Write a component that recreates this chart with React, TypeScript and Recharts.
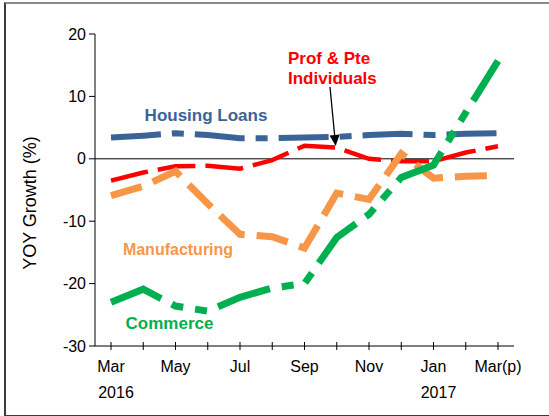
import React from 'react';
import { LineChart, Line, XAxis, YAxis, ReferenceLine } from 'recharts';

const MONTHS = [
  'Mar 2016', 'Apr 2016', 'May 2016', 'Jun 2016', 'Jul 2016', 'Aug 2016', 'Sep 2016',
  'Oct 2016', 'Nov 2016', 'Dec 2016', 'Jan 2017', 'Feb 2017', 'Mar 2017',
];
const TICK_LABELS = ['Mar', '', 'May', '', 'Jul', '', 'Sep', '', 'Nov', '', 'Jan', '', 'Mar(p)'];
const YEAR_LABELS = ['2016', '', '', '', '', '', '', '', '', '', '2017', '', ''];
const Y_TICKS = [-30, -20, -10, 0, 10, 20];

const HOUSING_LOANS = [3.4, 3.7, 4.1, 3.8, 3.3, 3.3, 3.4, 3.5, 3.8, 4.0, 3.8, 4.0, 4.1];
const PROF_PTE = [-3.5, -2.2, -1.2, -1.1, -1.6, -0.2, 2.1, 1.8, 0.0, -0.4, -0.4, 1.0, 2.0];
const MANUFACTURING = [-5.9, -4.4, -2.0, -7.2, -12.1, -12.5, -14.3, -5.5, -6.5, 0.8, -3.1, -2.8, -2.7];
const COMMERCE = [-23.0, -20.9, -23.6, -24.4, -22.2, -20.7, -20.0, -12.6, -8.9, -3.0, -1.0, 7.4, 15.7];

const FONT = '"Liberation Sans", Arial, sans-serif';

const data = MONTHS.map((month, i) => ({
  month,
  housing: HOUSING_LOANS[i],
  prof: PROF_PTE[i],
  manu: MANUFACTURING[i],
  commerce: COMMERCE[i],
}));

const MonthTick = (props: any) => {
  const { x, y, index } = props;
  return (
    <g>
      <line x1={x} x2={x} y1={y - 4} y2={y + 4} stroke="#000" strokeWidth={1} />
      <text x={x} y={y + 26} textAnchor="middle" fontSize={16} fill="#000" fontFamily={FONT}>
        {TICK_LABELS[index]}
      </text>
      {YEAR_LABELS[index] && (
        <text x={x + 5} y={y + 52} textAnchor="middle" fontSize={16} fill="#000" fontFamily={FONT}>
          {YEAR_LABELS[index]}
        </text>
      )}
    </g>
  );
};

export default function App() {
  return (
    <div style={{ position: 'absolute', left: 0, top: 0, width: 549, height: 416, background: '#fff', fontFamily: FONT }}>
      <div
        style={{
          position: 'absolute', left: 4, top: 2, width: 600, height: 411,
          borderLeft: '2px solid #3a3a3a', borderBottom: '2px solid #3a3a3a', borderTop: '2px solid #8a8a8a',
        }}
      />
      <LineChart
        width={549}
        height={416}
        data={data}
        margin={{ top: 34, right: 35, left: 35, bottom: 30 }}
        style={{ position: 'absolute', left: 0, top: 0, fontFamily: FONT }}
      >
        <XAxis
          dataKey="month"
          interval={0}
          height={40}
          padding={{ left: 16, right: 16 }}
          tickSize={0}
          tickMargin={0}
          tickLine={false}
          axisLine={{ stroke: '#000' }}
          tick={(p: any) => <MonthTick {...p} />}
        />
        <XAxis xAxisId="top" dataKey="month" orientation="top" height={0} tick={false} tickLine={false} axisLine={{ stroke: '#000' }} />
        <YAxis
          domain={[-30, 20]}
          ticks={Y_TICKS}
          interval={0}
          width={60}
          tickSize={6}
          tickMargin={3}
          tick={{ fontSize: 16, fill: '#000', fontFamily: FONT }}
          axisLine={{ stroke: '#000' }}
          tickLine={{ stroke: '#000' }}
        />
        <YAxis yAxisId="right" orientation="right" width={0} domain={[-30, 20]} tick={false} tickLine={false} axisLine={{ stroke: '#000' }} />
        <ReferenceLine y={0} stroke="#000" strokeWidth={1} />
        <Line dataKey="prof" stroke="#ff0000" strokeWidth={4.5} strokeDasharray="38 10" dot={false} isAnimationActive={false} />
        <Line dataKey="manu" stroke="#f79646" strokeWidth={7} strokeDasharray="32 12" dot={false} isAnimationActive={false} />
        <Line dataKey="housing" stroke="#3a6496" strokeWidth={6} strokeDasharray="50 11 12 11" dot={false} isAnimationActive={false} />
        <Line dataKey="commerce" stroke="#00b050" strokeWidth={7} strokeDasharray="55 12 12 12 12 12" dot={false} isAnimationActive={false} />
      </LineChart>
      <svg width={549} height={416} style={{ position: 'absolute', left: 0, top: 0, pointerEvents: 'none' }}>
        <text x={30} y={203} transform="rotate(-90 30 203)" textAnchor="middle" dominantBaseline="central" fontSize={18} fill="#000" fontFamily={FONT}>
          YOY Growth (%)
        </text>
        <text x={206} y={121} textAnchor="middle" fontSize={17} fontWeight="bold" fill="#3a6496" fontFamily={FONT}>
          Housing Loans
        </text>
        <text x={288} y={63.5} fontSize={17} fontWeight="bold" fill="#ff0000" fontFamily={FONT}>Prof &amp; Pte</text>
        <text x={288} y={83.5} fontSize={17} fontWeight="bold" fill="#ff0000" fontFamily={FONT}>Individuals</text>
        <text x={178} y={255} textAnchor="middle" fontSize={16} fontWeight="bold" fill="#f79646" fontFamily={FONT}>
          Manufacturing
        </text>
        <text x={169.5} y={328.5} textAnchor="middle" fontSize={17} fontWeight="bold" fill="#00b050" fontFamily={FONT}>
          Commerce
        </text>
        <line x1={330} y1={87} x2={334.6} y2={135} stroke="#000" strokeWidth={1.3} />
        <polygon points="335.7,146 339.6,134.5 329.6,135.5" fill="#000" />
      </svg>
    </div>
  );
}
